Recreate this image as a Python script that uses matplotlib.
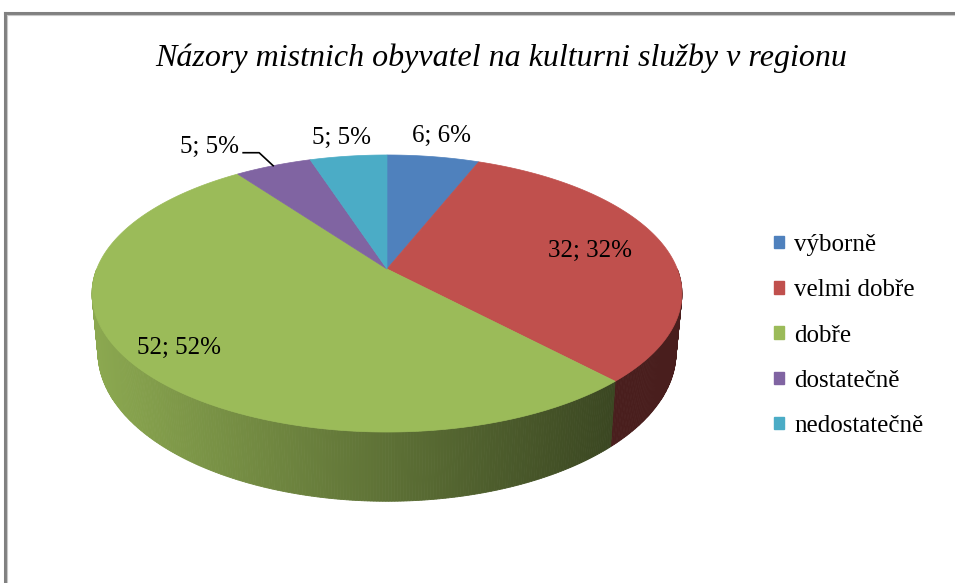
import numpy as np
import matplotlib
matplotlib.use("Agg")
import matplotlib.pyplot as plt
from matplotlib.patches import Polygon, Patch
from matplotlib.lines import Line2D
import matplotlib.colors as mcolors

# ---- data ----
categories = ["výborně", "velmi dobře", "dobře", "dostatečně", "nedostatečně"]
values = [6, 32, 52, 5, 5]
percents = [6, 32, 52, 5, 5]
colors = ["#4F81BD", "#C0504D", "#9BBB59", "#8064A2", "#4BACC6"]
title = "Názory mistnich obyvatel na kulturni služby v regionu"

W, H = 955, 583
fig = plt.figure(figsize=(W / 100, H / 100), dpi=100)
ax = fig.add_axes([0, 0, 1, 1])
ax.set_xlim(0, W)
ax.set_ylim(H, 0)
ax.axis("off")

# ---- perspective pie geometry (screen pixels) ----
cx, p0, q0, cpers, kx = 387.0, 269.0, 86.6, -0.1769, 290.3
depth, shrink = 57.0, 0.98


def top_pt(phi_deg, r=1.0):
    ph = np.radians(phi_deg)
    u = r * np.sin(ph)
    v = -r * np.cos(ph)
    w = 1 + cpers * v
    return cx + kx * u / w, (p0 + q0 * v) / w, w


def bot_pt(phi_deg):
    X, Y, w = top_pt(phi_deg)
    return cx + (X - cx) * shrink, Y + depth / w


def shade(col, f):
    r, g, b = mcolors.to_rgb(col)
    return (r * f, g * f, b * f)


total = sum(values)
bounds = np.concatenate([[0], np.cumsum(values) / total * 360.0])

# side walls (front visible half)
for i, col in enumerate(colors):
    a0, a1 = bounds[i], bounds[i + 1]
    lo, hi = max(a0, 90), min(a1, 270)
    if lo >= hi:
        continue
    angs = np.linspace(lo, hi, int((hi - lo) * 2) + 2)
    for j in range(len(angs) - 1):
        t0, t1 = angs[j], angs[j + 1]
        x0, y0, _ = top_pt(t0)
        x1, y1, _ = top_pt(t1)
        bx0, by0 = bot_pt(t0)
        bx1, by1 = bot_pt(t1)
        xm = 0.5 * (x0 + x1)
        f = 0.9 - 0.52 * np.clip((xm - 92) / 520.0, 0, 1)
        c = shade(col, f)
        ax.add_patch(Polygon([(x0, y0), (x1, y1), (bx1, by1), (bx0, by0)],
                             closed=True, facecolor=c, edgecolor=c, lw=0.6))

# top surface
for i, col in enumerate(colors):
    a0, a1 = bounds[i], bounds[i + 1]
    angs = np.linspace(a0, a1, int((a1 - a0) * 2) + 2)
    pts = [(cx, p0)] + [top_pt(a)[:2] for a in angs]
    ax.add_patch(Polygon(pts, closed=True, facecolor=col, edgecolor=col, lw=0.5))

# data labels
lab_font = dict(family="Liberation Serif", fontsize=18, color="black")
label_r = [1.22, 0.73, 0.84, None, 1.2]
for i in range(len(values)):
    mid = 0.5 * (bounds[i] + bounds[i + 1])
    txt = f"{values[i]}; {percents[i]}%"
    if label_r[i] is not None:
        X, Y, _ = top_pt(mid, label_r[i])
        ax.text(X, Y, txt, ha="center", va="center", **lab_font)
    else:
        X, Y, _ = top_pt(mid, 1.0)
        ex, ey = X - 14, Y - 13
        sx, sy = X - 30, Y - 13
        ax.add_line(Line2D([X, ex, sx], [Y, ey, sy], color="black", lw=1.2))
        ax.text(sx - 4, sy - 6, txt, ha="right", va="center", **lab_font)

# title
fig.text(501 / W, 1 - 58 / H, title, ha="center", va="center",
         family="Liberation Serif", style="italic", fontsize=23)

# legend
handles = [Patch(facecolor=c, edgecolor=c) for c in colors]
leg = fig.legend(handles, categories, loc="upper left",
                 bbox_to_anchor=(764 / W, 1 - 224 / H), frameon=False,
                 prop=dict(family="Liberation Serif", size=18),
                 handlelength=0.4, handleheight=0.4, handletextpad=0.4,
                 labelspacing=0.93, borderaxespad=0)

# chart border (top and left visible)
fig.add_artist(Line2D([5 / W, 1], [1 - 13 / H, 1 - 13 / H], color="#808080", lw=2.2))
fig.add_artist(Line2D([5 / W, 5 / W], [1 - 13 / H, 0], color="#808080", lw=2.2))
fig.add_artist(Line2D([6.5 / W, 1], [1 - 14.5 / H, 1 - 14.5 / H], color="#C8C8C8", lw=0.8))
fig.add_artist(Line2D([6.5 / W, 6.5 / W], [1 - 14.5 / H, 0], color="#C8C8C8", lw=0.8))

fig.savefig("out.png", dpi=100, facecolor="white")
